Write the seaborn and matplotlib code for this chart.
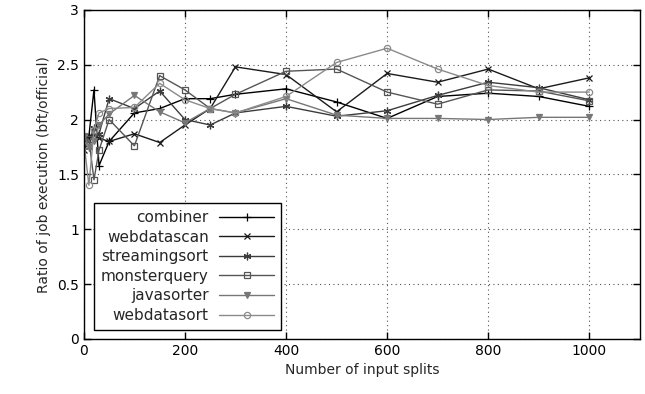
import numpy as np
import pandas as pd
import matplotlib
matplotlib.use("Agg")
import matplotlib.pyplot as plt
import seaborn as sns

# input splits (x) and ratio per benchmark (y)
splits = [1, 10, 20, 30, 50, 100, 150, 200, 250, 300, 400, 500, 600, 700, 800, 900, 1000]

combiner = [1.80, 1.85, 2.27, 1.58, 1.80, 2.06, 2.10, 2.19, 2.19, 2.23, 2.28, 2.16, 2.01, 2.21, 2.24, 2.21, 2.12]
webdatascan = [1.72, 1.85, 1.86, 1.83, 1.80, 1.87, 1.79, 1.95, 2.10, 2.48, 2.41, 2.07, 2.42, 2.34, 2.46, 2.28, 2.38]
streamingsort = [1.78, 1.75, 1.92, 1.87, 2.19, 2.10, 2.26, 2.00, 1.95, 2.06, 2.12, 2.03, 2.08, 2.22, 2.34, 2.29, 2.18]
monsterquery = [1.80, 1.82, 1.45, 1.72, 2.00, 1.76, 2.40, 2.27, 2.10, 2.23, 2.44, 2.46, 2.25, 2.14, 2.27, 2.26, 2.17]
javasorter = [1.85, 1.75, 1.80, 1.95, 2.05, 2.22, 2.07, 1.97, 2.10, 2.06, 2.19, 2.04, 2.01, 2.01, 2.00, 2.02, 2.02]
webdatasort = [1.76, 1.40, 1.90, 2.06, 2.10, 2.11, 2.33, 2.18, 2.10, 2.06, 2.21, 2.52, 2.65, 2.46, 2.31, 2.25, 2.25]

series_names = ["combiner", "webdatascan", "streamingsort", "monsterquery", "javasorter", "webdatasort"]
series_values = [combiner, webdatascan, streamingsort, monsterquery, javasorter, webdatasort]

colors = ["#000000", "#1a1a1a", "#3c3c3c", "#555555", "#777777", "#8a8a8a"]
markers = ["+", "x", (6, 2, 0), "s", "v", "o"]
msizes = [6, 5, 5.5, 4.5, 4, 4.5]
filled = [True, True, True, False, True, False]

df = pd.DataFrame({
    "splits": np.tile(splits, len(series_names)),
    "ratio": np.concatenate(series_values),
    "job": np.repeat(series_names, len(splits)),
})

sns.set_style("ticks")
plt.rcParams["font.family"] = ["DejaVu Sans"]

fig = plt.figure(figsize=(6.45, 3.94), dpi=100)
ax = fig.add_axes([0.130, 0.140, 0.862, 0.835])

for name, c, m, ms, f in zip(series_names, colors, markers, msizes, filled):
    sub = df[df["job"] == name]
    sns.lineplot(data=sub, x="splits", y="ratio", ax=ax, color=c, marker=m,
                 markersize=ms, linewidth=1.0, label=name,
                 markerfacecolor=c if f else "none", markeredgecolor=c,
                 markeredgewidth=0.9)

ax.set_xlim(0, 1100)
ax.set_ylim(0, 3)
ax.set_xticks([0, 200, 400, 600, 800, 1000])
ax.set_yticks([0, 0.5, 1, 1.5, 2, 2.5, 3])
ax.set_yticklabels(["0", "0.5", "1", "1.5", "2", "2.5", "3"])
ax.tick_params(direction="in", length=5, width=1, top=True, right=True, labelsize=10, colors="black")
ax.grid(True, linestyle=(0, (1, 3)), color="#555555", linewidth=0.8)
for s in ax.spines.values():
    s.set_color("black")
    s.set_linewidth(1.0)

ax.set_xlabel("Number of input splits", fontsize=10)
ax.set_ylabel("Ratio of job execution (bft/official)", fontsize=10)

leg = ax.legend(loc="lower left", bbox_to_anchor=(0.013, 0.018), markerfirst=False,
                fontsize=11, frameon=True, fancybox=False, framealpha=1,
                edgecolor="black", handlelength=3.6, labelspacing=0.3,
                borderpad=0.45, handletextpad=0.7, borderaxespad=0.2)
leg.get_frame().set_linewidth(1.0)

fig.savefig("out.png", dpi=100)
